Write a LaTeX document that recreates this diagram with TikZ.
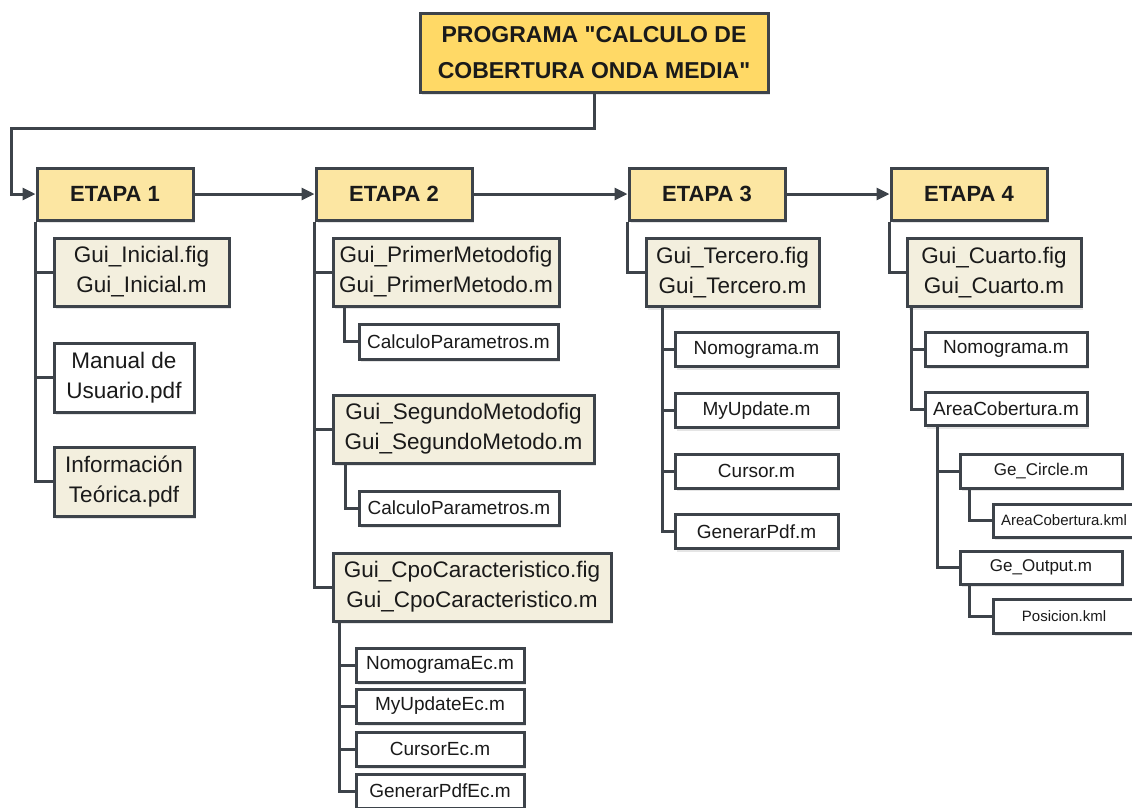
\documentclass[tikz,border=0pt]{standalone}
\usepackage{fontspec}
\setmainfont{Liberation Sans}[Ligatures=TeXOff]
\usetikzlibrary{arrows.meta,shadows}

\definecolor{edge}{HTML}{3D434A}
\definecolor{gold}{HTML}{FFD966}
\definecolor{stagefill}{HTML}{FCE6A2}
\definecolor{cream}{HTML}{F3EFDE}
\definecolor{ink}{HTML}{1A1A1A}

\tikzset{
  box/.style={draw=edge, line width=3pt, text=ink, align=center, inner sep=0pt,
    drop shadow={shadow xshift=2pt, shadow yshift=-3pt, opacity=0.10, fill=black}},
  title/.style={box, fill=gold, font=\fontsize{23}{36}\selectfont\bfseries},
  stage/.style={box, fill=stagefill, minimum width=156pt, minimum height=52pt,
    font=\fontsize{22}{26}\selectfont\bfseries},
  gui/.style={box, fill=cream, font=\fontsize{22.5}{30}\selectfont},
  doc/.style={box, fill=white, font=\fontsize{22.5}{30}\selectfont},
  file/.style={box, fill=white, font=\fontsize{19}{22}\selectfont},
  gefile/.style={box, fill=white, font=\fontsize{17}{20}\selectfont},
  kml/.style={box, fill=white, font=\fontsize{15}{18}\selectfont},
  link/.style={draw=edge, line width=3pt},
  flow/.style={link, -{Triangle[length=13pt,width=12pt]}},
}

\begin{document}
\begin{tikzpicture}[x=1pt, y=-1pt]
\useasboundingbox (0,0) rectangle (1132,807);

% main program
\node[title, minimum width=348pt, minimum height=79pt] (prog) at (594,52.5)
  {PROGRAMA "CALCULO DE\\COBERTURA ONDA MEDIA"};

% stages
\node[stage] (e1) at (115,194) {ETAPA 1};
\node[stage] (e2) at (394,194) {ETAPA 2};
\node[stage] (e3) at (707,194) {ETAPA 3};
\node[stage] (e4) at (969,194) {ETAPA 4};

% stage 1
\node[gui, minimum width=175pt, minimum height=68pt] (gi) at (141.5,272)
  {Gui\_Inicial.fig\\Gui\_Inicial.m};
\node[doc, minimum width=140pt, minimum height=69pt] (man) at (124,377.5)
  {Manual de\\Usuario.pdf};
\node[gui, minimum width=140pt, minimum height=69pt] (inf) at (124,481.5)
  {Información\\Teórica.pdf};

% stage 2
\node[gui, minimum width=226pt, minimum height=68pt] (gp) at (446,272)
  {Gui\_PrimerMetodofig\\Gui\_PrimerMetodo.m};
\node[file, minimum width=199pt, minimum height=35pt] (cp1) at (458.5,341.5)
  {CalculoParametros.m};
\node[gui, minimum width=261pt, minimum height=68pt] (gs) at (463.5,429)
  {Gui\_SegundoMetodofig\\Gui\_SegundoMetodo.m};
\node[file, minimum width=200pt, minimum height=34pt] (cp2) at (459,508)
  {CalculoParametros.m};
\node[gui, minimum width=278pt, minimum height=68pt] (gc) at (472,587)
  {Gui\_CpoCaracteristico.fig\\Gui\_CpoCaracteristico.m};
\node[file, minimum width=168pt, minimum height=34pt] (ec1) at (440,665) {NomogramaEc.m};
\node[file, minimum width=168pt, minimum height=34pt] (ec2) at (440,706) {MyUpdateEc.m};
\node[file, minimum width=168pt, minimum height=34pt] (ec3) at (440,749) {CursorEc.m};
\node[file, minimum width=168pt, minimum height=34pt] (ec4) at (440,791) {GenerarPdfEc.m};

% stage 3
\node[gui, minimum width=173pt, minimum height=68pt] (gt) at (732.5,272.5)
  {Gui\_Tercero.fig\\Gui\_Tercero.m};
\node[file, minimum width=163pt, minimum height=34pt] (n3) at (756.5,349.5) {Nomograma.m};
\node[file, minimum width=163pt, minimum height=34pt] (m3) at (756.5,410.5) {MyUpdate.m};
\node[file, minimum width=163pt, minimum height=34pt] (c3) at (756.5,471) {Cursor.m};
\node[file, minimum width=163pt, minimum height=34pt] (g3) at (756.5,531.5) {GenerarPdf.m};

% stage 4
\node[gui, minimum width=174pt, minimum height=68pt] (gq) at (994,272.5)
  {Gui\_Cuarto.fig\\Gui\_Cuarto.m};
\node[file, minimum width=162pt, minimum height=34pt] (n4) at (1006,349) {Nomograma.m};
\node[file, minimum width=162pt, minimum height=33pt] (a4) at (1006,409) {AreaCobertura.m};
\node[gefile, minimum width=162pt, minimum height=34pt] (gec) at (1041,471) {Ge\_Circle.m};
\node[kml, minimum width=142pt, minimum height=33pt] (ak) at (1064,520.5) {AreaCobertura.kml};
\node[gefile, minimum width=162pt, minimum height=33pt] (geo) at (1041,567.5) {Ge\_Output.m};
\node[kml, minimum width=142pt, minimum height=34pt] (pos) at (1064,616) {Posicion.kml};

% flow between program and stages
\coordinate (bend) at (11,128);
\draw[flow] (prog.south) |- (bend) |- (e1.west);
\draw[flow] (e1.east) -- (e2.west);
\draw[flow] (e2.east) -- (e3.west);
\draw[flow] (e3.east) -- (e4.west);

% stage 1 tree
\draw[link] (e1.south west) |- (gi.west)
            (e1.south west) |- (man.west)
            (e1.south west) |- (inf.west);

% stage 2 tree
\draw[link] (e2.south west) |- (gp.west)
            (e2.south west) |- (gs.west)
            (e2.south west) |- (gc.west);
\draw[link] ([xshift=13pt]gp.south west) |- (cp1.west);
\draw[link] ([xshift=14pt]gs.south west) |- (cp2.west);
\coordinate (gcx) at ([xshift=8pt]gc.south west);
\draw[link] (gcx) |- (ec1.west) (gcx) |- (ec2.west)
            (gcx) |- (ec3.west) (gcx) |- (ec4.west);

% stage 3 tree
\draw[link] (e3.south west) |- (gt.west);
\coordinate (gtx) at ([xshift=18pt]gt.south west);
\draw[link] (gtx) |- (n3.west) (gtx) |- (m3.west)
            (gtx) |- (c3.west) (gtx) |- (g3.west);

% stage 4 tree
\draw[link] (e4.south west) |- (gq.west);
\coordinate (gqx) at ([xshift=6pt]gq.south west);
\draw[link] (gqx) |- (n4.west) (gqx) |- (a4.west);
\coordinate (a4x) at ([xshift=14pt]a4.south west);
\draw[link] (a4x) |- (gec.west) (a4x) |- (geo.west);
\draw[link] ([xshift=11pt]gec.south west) |- (ak.west);
\draw[link] ([xshift=11pt]geo.south west) |- (pos.west);
\end{tikzpicture}
\end{document}
